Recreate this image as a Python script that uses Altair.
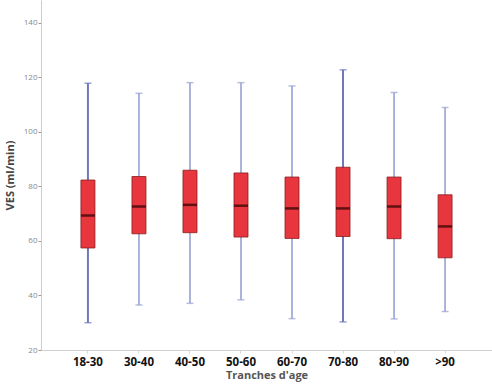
import altair as alt
import pandas as pd

ages = ["18-30", "30-40", "40-50", "50-60", "60-70", "70-80", "80-90", ">90"]
whisker_low = [30.0, 36.5, 37.1, 38.4, 31.5, 30.3, 31.4, 34.1]
q1 = [57.4, 62.6, 63.0, 61.4, 60.9, 61.6, 60.8, 53.8]
median = [69.3, 72.6, 73.2, 72.9, 71.9, 71.9, 72.6, 65.3]
q3 = [82.3, 83.6, 85.9, 84.9, 83.4, 87.0, 83.4, 76.9]
whisker_high = [117.8, 114.1, 118.0, 118.0, 116.8, 122.7, 114.4, 108.9]
y_ticks = [20, 40, 60, 80, 100, 120, 140]

df = pd.DataFrame({
    "age": ages, "low": whisker_low, "q1": q1, "median": median,
    "q3": q3, "high": whisker_high,
})

x = alt.X("age:N", sort=ages,
          scale=alt.Scale(paddingInner=0, paddingOuter=0.42),
          axis=alt.Axis(title="Tranches d'age", labelAngle=0,
                        labelFont="Open Sans", labelFontSize=11.5, labelFontWeight="bold",
                        labelColor="#111111", labelPadding=3,
                        titleFont="Open Sans", titleFontSize=11, titleFontWeight="bold",
                        titleColor="#555555", titlePadding=2,
                        domainColor="#d0d0d0", tickColor="#d8d8d8", tickSize=3))
yscale = alt.Scale(domain=[20, 148.3], nice=False, zero=False)
yaxis = alt.Axis(title="VES (ml/min)", values=y_ticks, grid=False,
                 labelFont="Open Sans", labelFontSize=8, labelColor="#888888",
                 labelPadding=1, tickSize=3, tickColor="#999999",
                 domainColor="#cccccc",
                 titleFont="Open Sans", titleFontSize=11, titleFontWeight="bold",
                 titleColor="#444444", titlePadding=8)

base = alt.Chart(df)
thick = alt.FieldOneOfPredicate(field="age", oneOf=["18-30", "70-80"])

whisk = base.mark_rule().encode(
    x=x,
    y=alt.Y("low:Q", scale=yscale, axis=yaxis),
    y2="high:Q",
    color=alt.condition(thick, alt.value("#6d78bd"), alt.value("#98a1d4")),
    strokeWidth=alt.condition(thick, alt.value(2.0), alt.value(1.6)),
)
cap_low = base.mark_tick(thickness=1.5, size=7).encode(
    x=x, y=alt.Y("low:Q", scale=yscale),
    color=alt.condition(thick, alt.value("#6d78bd"), alt.value("#98a1d4")),
)
cap_high = base.mark_tick(thickness=1.5, size=7).encode(
    x=x, y=alt.Y("high:Q", scale=yscale),
    color=alt.condition(thick, alt.value("#6d78bd"), alt.value("#98a1d4")),
)
box = base.mark_bar(size=14, color="#e8363f", stroke="#8a1c1c", strokeWidth=0.8).encode(
    x=x, y=alt.Y("q1:Q", scale=yscale), y2="q3:Q",
)
med = base.mark_tick(size=14, thickness=2.5, color="#2a0000").encode(
    x=x, y=alt.Y("median:Q", scale=yscale),
)

chart = alt.layer(whisk, cap_low, cap_high, box, med).properties(
    width=451, height=350,
    padding={"left": 41, "top": 0, "right": 0, "bottom": 36},
    autosize=alt.AutoSizeParams(type="none"),
    background="white",
).configure_view(stroke=None)

chart.save("out.html", embed_options={"renderer": "svg", "actions": False})
